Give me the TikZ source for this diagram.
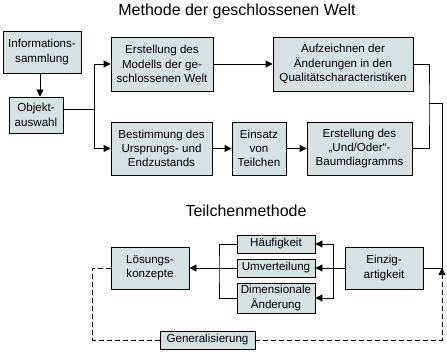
\documentclass[tikz,border=0pt]{standalone}
\usepackage{fontspec}
\setmainfont{Liberation Sans}
\usetikzlibrary{arrows.meta,calc}
\definecolor{boxfill}{RGB}{214,226,226}
\tikzset{
  box/.style={draw=black, line width=0.9pt, fill=boxfill, inner sep=0pt, align=center,
    font=\fontsize{11.6}{14.3}\selectfont},
  ttl/.style={inner sep=0pt, font=\fontsize{16}{18}\selectfont},
  conn/.style={line width=0.9pt},
  arr/.style={conn, -{Triangle[length=7pt,width=7pt]}},
  dsh/.style={conn, dash pattern=on 5pt off 3pt},
}
\begin{document}
\begin{tikzpicture}[x=1pt,y=-1pt]
\useasboundingbox[fill=white] (0,0) rectangle (447,352);

\node[ttl] (t1) at (237,11) {Methode der geschlossenen Welt};
\node[ttl] (t2) at (246,211) {Teilchenmethode};

\node[box, minimum width=78pt, minimum height=42pt] (info) at (42,52) {Informations-\\sammlung};
\node[box, minimum width=54pt, minimum height=36pt] (obj) at (36,115) {Objekt-\\auswahl};
\node[box, minimum width=102pt, minimum height=54pt] (mod) at (162,64) {Erstellung des\\Modells der ge-\\schlossenen Welt};
\node[box, minimum width=140pt, minimum height=54pt] (auf) at (343,64) {Aufzeichnen der\\Änderungen in den\\Qualitätscharacteristiken};
\node[box, minimum width=101pt, minimum height=53pt] (best) at (161.5,148.5) {Bestimmung des\\Ursprungs- und\\Endzustands};
\node[box, minimum width=54pt, minimum height=53pt] (ein) at (259,148.5) {Einsatz\\von\\Teilchen};
\node[box, minimum width=105pt, minimum height=53pt] (und) at (359.5,148.5) {Erstellung des\\„Und/Oder“-\\Baumdiagramms};

\node[box, minimum width=78pt, minimum height=42pt] (los) at (150,268) {Lösungs-\\konzepte};
\node[box, minimum width=78pt, minimum height=18pt] (hauf) at (276,244) {Häufigkeit};
\node[box, minimum width=78pt, minimum height=18pt] (umv) at (276,268) {Umverteilung};
\node[box, minimum width=78pt, minimum height=30pt] (dim) at (276,298) {Dimensionale\\Änderung};
\node[box, minimum width=78pt, minimum height=42pt] (einz) at (384,268) {Einzig-\\artigkeit};
\node[box, minimum width=95pt, minimum height=18pt] (gen) at (207.5,340) {Generalisierung};

\coordinate (split) at (94,109);
\coordinate (rj) at (429,103);
\coordinate (J) at (442,268);
\coordinate (rb) at (333,268);
\coordinate (lb) at (219,268);

% upper part
\draw[arr] ([xshift=-2pt]info.south) -- ([xshift=-2pt]info.south |- obj.north);
\draw[conn] ([yshift=6pt]obj.east) -- (split);
\draw[arr] (split) |- (mod.west);
\draw[arr] (split) |- (best.west);
\draw[arr] (mod.east) -- (auf.west);
\draw[arr] (best.east) -- (ein.west);
\draw[arr] (ein.east) -- (und.west);
\draw[conn] (auf.east) -| (rj) |- (und.east);
\draw[conn] (rj) -| (J) -- (einz.east);

% lower part
\draw[arr] (einz.west) -- (umv.east);
\draw[arr] (rb) |- (hauf.east);
\draw[arr] (rb) |- (dim.east);
\draw[conn] (hauf.west) -| (lb) |- (dim.west);
\draw[arr] (umv.west) -- (los.east);

% feedback
\draw[dsh] (los.west) -- ++(-18,0) |- (gen.west);
\draw[dsh, -{Triangle[length=7pt,width=7pt]}] (gen.east) -| (J);
\end{tikzpicture}
\end{document}
